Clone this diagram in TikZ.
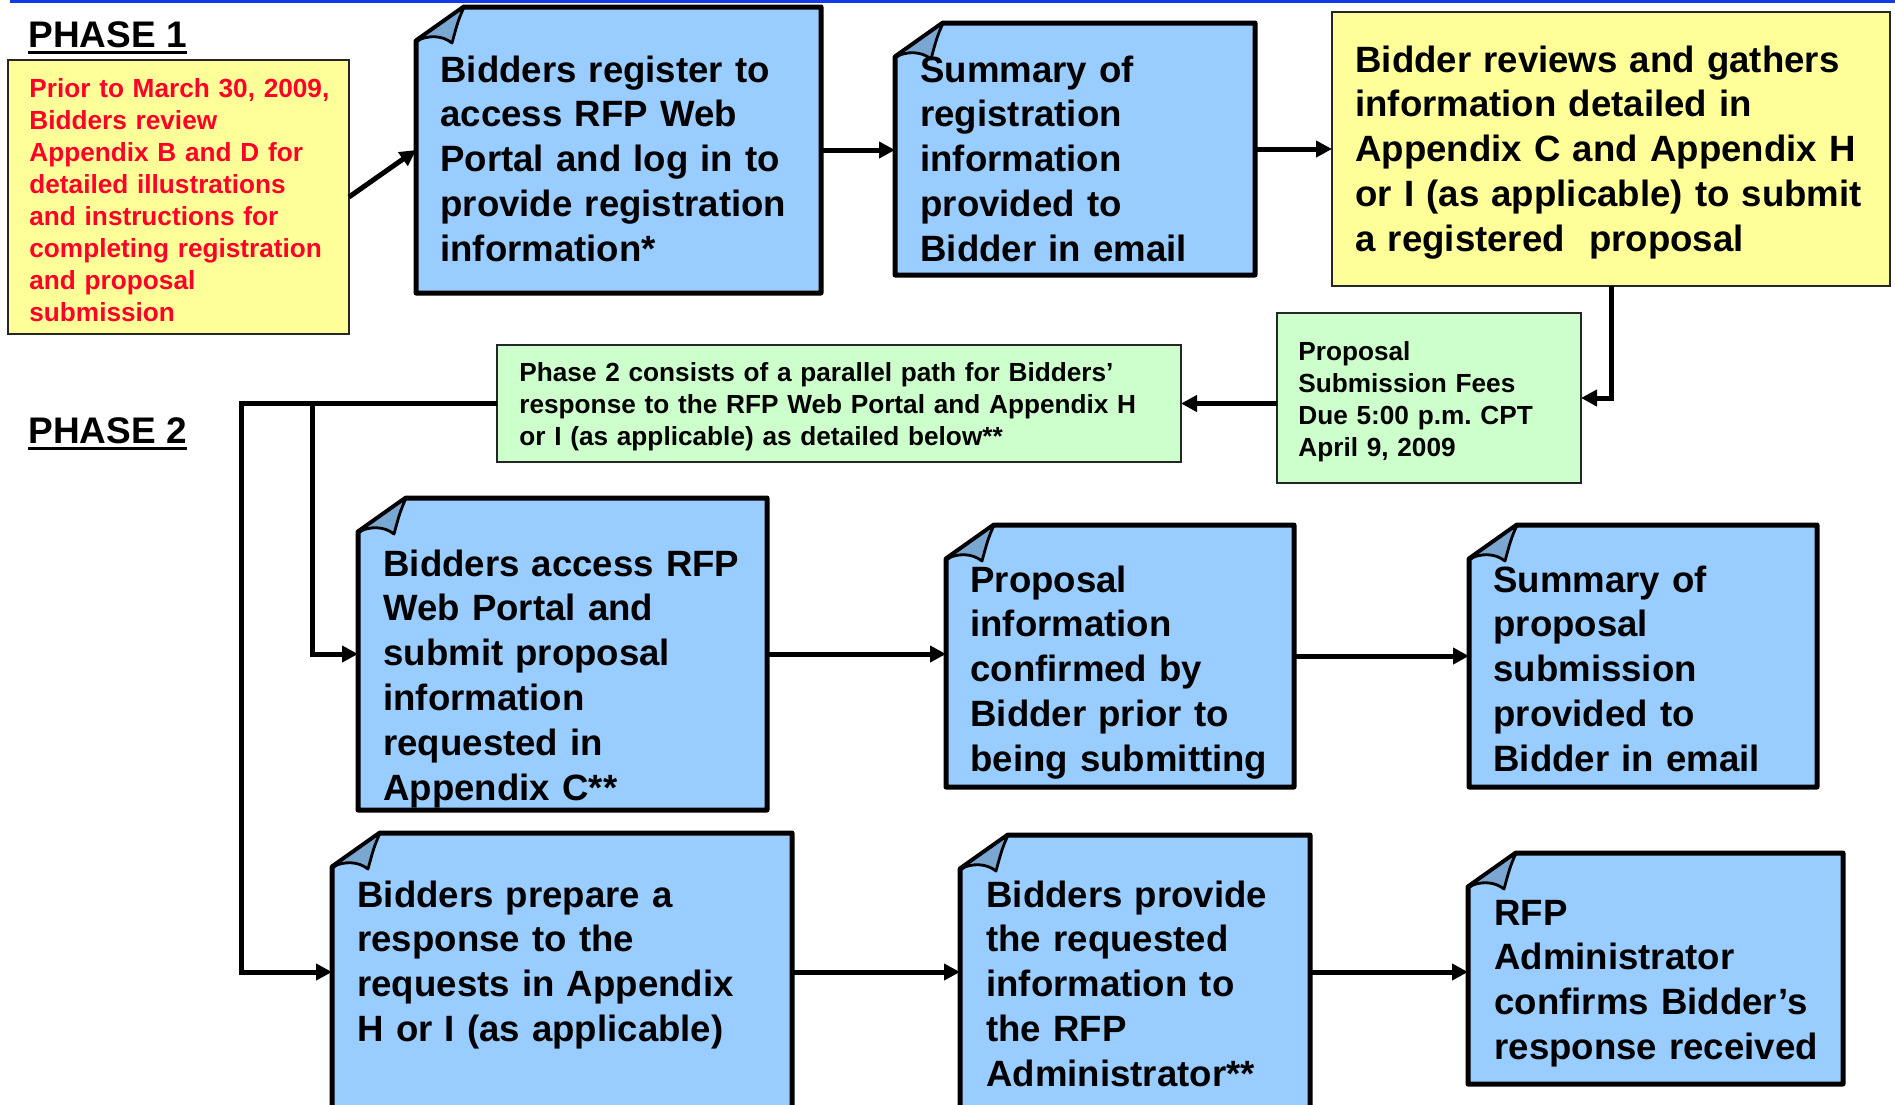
\documentclass[tikz,border=0pt]{standalone}
\usepackage{fontspec}
\setmainfont{Liberation Sans}
\usetikzlibrary{arrows.meta,calc,fit}
\definecolor{noteblue}{RGB}{153,204,255}
\definecolor{flapblue}{RGB}{122,166,210}
\definecolor{paleyellow}{RGB}{255,255,153}
\definecolor{palegreen}{RGB}{204,255,204}
\definecolor{alertred}{RGB}{255,0,40}
\definecolor{ruleblue}{RGB}{20,60,230}
\begin{document}
\begin{tikzpicture}[x=0.5pt, y=-0.5pt,
    area/.style={inner sep=0pt, outer sep=0pt},
    notearea/.style={area},
    card/.style={area, draw=black!85, line width=1.2pt},
    bodytext/.style={anchor=base west, inner sep=0pt, align=left, text width=330pt,
      font=\bfseries\fontsize{18.3pt}{22.4pt}\selectfont},
    smalltext/.style={bodytext, font=\bfseries\fontsize{13.1pt}{16pt}\selectfont},
    heading/.style={anchor=base west, inner sep=0pt, font=\bfseries\fontsize{18.5pt}{22pt}\selectfont},
    flow/.style={line width=2.5pt, -{Triangle[length=8pt,width=8pt]}}]
  \path[use as bounding box, fill=white] (0,0) rectangle (1895,1104);
  \draw[ruleblue, line width=1.5pt] (10,1.5) -- (1895,1.5);

  % boxes
  \node[card, fill=paleyellow, fit={(8,60) (349,334)}] (prior) {};
  \node[notearea, fit={(416,7) (821,293)}] (reg) {};
  \node[notearea, fit={(895,23) (1255,275)}] (regmail) {};
  \node[card, fill=paleyellow, fit={(1332,12) (1890,286)}] (review) {};
  \node[card, fill=palegreen, fit={(1277,313) (1581,483)}] (fees) {};
  \node[card, fill=palegreen, fit={(497,345) (1181,462)}] (parallel) {};
  \node[notearea, fit={(358,498) (767,810)}] (access) {};
  \node[notearea, fit={(946,525) (1294,787)}] (confirm) {};
  \node[notearea, fit={(1469,525) (1817,787)}] (propmail) {};
  \node[notearea, fit={(332,833) (792,1111)}] (respond) {};
  \node[notearea, fit={(960,835) (1310,1109)}] (provide) {};
  \node[notearea, fit={(1468,853) (1843,1084)}] (admin) {};

  % folded notes
  \foreach \n in {reg,regmail,access,confirm,propmail,respond,provide,admin}{
    \draw[fill=noteblue, line width=2.5pt, line join=round]
      ($(\n.north west)+(0,34)$) -- ($(\n.north west)+(48,0)$) -- (\n.north east)
      -- (\n.south east) -- (\n.south west) -- cycle;
    \filldraw[fill=flapblue, line width=1.4pt, line join=round]
      ($(\n.north west)+(48,0)$) .. controls ($(\n.north west)+(42,14)$) .. ($(\n.north west)+(36,36)$)
      .. controls ($(\n.north west)+(26,28)$) and ($(\n.north west)+(12,28)$) .. ($(\n.north west)+(0,34)$) -- cycle;
  }

  % headings
  \node[heading] (phase1) at (28,47) {PHASE 1};
  \node[heading] (phase2) at (28,443) {PHASE 2};
  \draw[line width=1.5pt] ([yshift=-2.5pt]phase1.base west) -- ([yshift=-2.5pt]phase1.base east);
  \draw[line width=1.5pt] ([yshift=-2.5pt]phase2.base west) -- ([yshift=-2.5pt]phase2.base east);

  % texts
  \node[smalltext, text=alertred] (priortext) at (29,97) {Prior to March 30, 2009,\\ Bidders review\\ Appendix B and D for\\ detailed illustrations\\ and instructions for\\ completing registration\\ and proposal\\ submission};
  \node[bodytext] (regtext) at (440,82) {Bidders register to\\ access RFP Web\\ Portal and log in to\\ provide registration\\ information*};
  \node[bodytext] (regmailtext) at (920,82) {Summary of\\ registration\\ information\\ provided to\\ Bidder in email};
  \node[bodytext] (reviewtext) at (1355,72) {Bidder reviews and gathers\\ information detailed in\\ Appendix C and Appendix H\\ or I (as applicable) to submit\\ a registered\ \ proposal};
  \node[smalltext] (feestext) at (1298,360) {Proposal\\ Submission Fees\\ Due 5:00 p.m.\ CPT\\ April 9, 2009};
  \node[smalltext] (paralleltext) at (519,381) {Phase 2 consists of a parallel path for Bidders’\\ response to the RFP Web Portal and Appendix H\\ or I (as applicable) as detailed below**};
  \node[bodytext] (accesstext) at (383,576) {Bidders access RFP\\ Web Portal and\\ submit proposal\\ information\\ requested in\\ Appendix C**};
  \node[bodytext] (confirmtext) at (970,592) {Proposal\\ information\\ confirmed by\\ Bidder prior to\\ being submitting};
  \node[bodytext] (propmailtext) at (1493,592) {Summary of\\ proposal\\ submission\\ provided to\\ Bidder in email};
  \node[bodytext] (respondtext) at (357,907) {Bidders prepare a\\ response to the\\ requests in Appendix\\ H or I (as applicable)};
  \node[bodytext] (providetext) at (986,907) {Bidders provide\\ the requested\\ information to\\ the RFP\\ Administrator**};
  \node[bodytext] (admintext) at (1494,925) {RFP\\ Administrator\\ confirms Bidder’s\\ response received};

  \begin{scope}[flow]
    \draw (prior.east) -- (reg.west);
    \draw (reg.east) -- (reg.east -| regmail.west);
    \draw (regmail.east) -- (regmail.east -| review.west);
    \draw (review.south) |- (fees.east);
    \draw (fees.west |- parallel.east) -- (parallel.east);
    \draw (parallel.west) -- ++(-256,0) coordinate (trunk) |- (respond.west);
    \draw ($(trunk)+(71,0)$) |- (access.west);
    \draw (access.east) -- (access.east -| confirm.west);
    \draw (confirm.east) -- (confirm.east -| propmail.west);
    \draw (respond.east) -- (respond.east -| provide.west);
    \draw (provide.east) -- (provide.east -| admin.west);
  \end{scope}
\end{tikzpicture}
\end{document}
